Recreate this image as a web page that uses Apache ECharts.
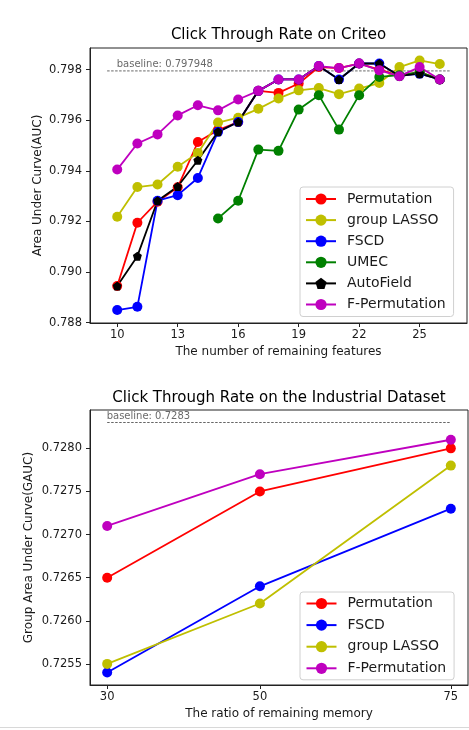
<!DOCTYPE html>
<html>
<head>
<meta charset="utf-8">
<script src="https://cdn.jsdelivr.net/npm/echarts@6/dist/echarts.min.js"></script>
<style>html,body{margin:0;padding:0;background:#fff;}#c{width:469px;height:730px;}</style>
</head>
<body>
<div id="c"></div>
<script>
// ---- Data: Criteo ----
const featX = [10, 11, 12, 13, 14, 15, 16, 17, 18, 19, 20, 21, 22, 23, 24, 25, 26];
const permutation = [0.78945, 0.79195, 0.79278, 0.79335, 0.79514, 0.79561, 0.79593, 0.79716, 0.79708, 0.79745, 0.79810, 0.79806, 0.79824, 0.79800, 0.79776, 0.79790, 0.79761];
const groupLasso = [0.79219, 0.79336, 0.79346, 0.79416, 0.79471, 0.79591, 0.79610, 0.79645, 0.79686, 0.79718, 0.79727, 0.79703, 0.79725, 0.79747, 0.79810, 0.79836, 0.79822];
const fscd = [0.78850, 0.78863, 0.79282, 0.79304, 0.79372, 0.79554, 0.79593, 0.79716, 0.79761, 0.79761, 0.79814, 0.79761, 0.79824, 0.79824, 0.79775, 0.79784, 0.79761];
const umec = [null, null, null, null, null, 0.79212, 0.79282, 0.79484, 0.79479, 0.79642, 0.79699, 0.79563, 0.79699, 0.79771, 0.79778, 0.79790, 0.79761];
const autoField = [0.78945, 0.79063, 0.79282, 0.79338, 0.79442, 0.79554, 0.79593, 0.79716, 0.79761, 0.79761, 0.79814, 0.79761, 0.79824, 0.79824, 0.79775, 0.79784, 0.79761];
const fPermutation = [0.79405, 0.79508, 0.79544, 0.79619, 0.79659, 0.79639, 0.79682, 0.79716, 0.79761, 0.79761, 0.79814, 0.79806, 0.79824, 0.79797, 0.79774, 0.79810, 0.79761];
const baseline1 = 0.797948;
const baseline1Span = [9.5, 26.5];
const xTicks1 = [10, 13, 16, 19, 22, 25];
const yTicks1 = [0.788, 0.790, 0.792, 0.794, 0.796, 0.798];

// ---- Data: Industrial ----
const memX = [30, 50, 75];
const permutation2 = [0.7265, 0.7275, 0.7280];
const fscd2 = [0.7254, 0.7264, 0.7273];
const groupLasso2 = [0.7255, 0.7262, 0.7278];
const fPermutation2 = [0.7271, 0.7277, 0.7281];
const baseline2 = 0.7283;
const baseline2Span = [30, 75];
const xTicks2 = [30, 50, 75];
const yTicks2 = [0.7255, 0.7260, 0.7265, 0.7270, 0.7275, 0.7280];

const FONT = 'DejaVu Sans';
const TXT = '#1a1a1a';
const C = { r: '#ff0000', y: '#bfbf00', b: '#0000ff', g: '#008000', k: '#000000', m: '#bf00bf' };
const pentagon = 'path://M0,-1 L0.951,-0.309 L0.588,0.809 L-0.588,0.809 L-0.951,-0.309 Z';

function zip(xs, ys) { return xs.map((x, i) => [x, ys[i]]); }

function lineSeries(name, color, xs, ys, gi, symbol, size) {
  return {
    type: 'line', name: name, xAxisIndex: gi, yAxisIndex: gi,
    data: zip(xs, ys),
    symbol: symbol || 'circle', symbolSize: size || 10,
    lineStyle: { color: color, width: 1.8 },
    itemStyle: { color: color },
    connectNulls: false, silent: true
  };
}
function baselineSeries(val, span, gi) {
  return {
    type: 'line', name: 'baseline' + gi, xAxisIndex: gi, yAxisIndex: gi,
    data: [[span[0], val], [span[1], val]], symbol: 'none',
    lineStyle: { color: '#555', width: 0.9, type: [2.5, 1.5] }, silent: true
  };
}
function baselineLabel(val, xAt, gi) {
  return {
    type: 'scatter', name: 'baselineText' + gi, xAxisIndex: gi, yAxisIndex: gi,
    data: [[xAt, val]], symbolSize: 1, itemStyle: { color: 'rgba(0,0,0,0)' }, silent: true,
    label: { show: true, position: [0, -11], formatter: 'baseline: ' + val,
      fontFamily: FONT, fontSize: 10, color: '#444' }
  };
}
function xAxis(gi, min, max, ticks, name) {
  return {
    type: 'value', gridIndex: gi, min: min, max: max,
    name: name, nameLocation: 'middle', nameGap: 23, nameMoveOverlap: false,
    nameTextStyle: { fontFamily: FONT, fontSize: 12, color: TXT },
    axisLine: { show: true, lineStyle: { color: '#222', width: 1 } },
    axisTick: { show: true, inside: false, length: 4, customValues: ticks, lineStyle: { color: '#222' } },
    axisLabel: { customValues: ticks, margin: 6, fontFamily: FONT, fontSize: 11.5, color: TXT },
    splitLine: { show: false }
  };
}
function yAxis(gi, min, max, ticks, name, dec, gap) {
  return {
    type: 'value', gridIndex: gi, min: min, max: max,
    name: name, nameLocation: 'middle', nameGap: gap, nameRotate: 90, nameMoveOverlap: false,
    nameTextStyle: { fontFamily: FONT, fontSize: 12, color: TXT },
    axisLine: { show: true, lineStyle: { color: '#222', width: 1 } },
    axisTick: { show: true, inside: false, length: 4, customValues: ticks, lineStyle: { color: '#222' } },
    axisLabel: { customValues: ticks, margin: 8, fontFamily: FONT, fontSize: 11.5, color: TXT,
      formatter: v => v.toFixed(dec) },
    splitLine: { show: false }
  };
}
function legend(names, top, pad) {
  return {
    data: names, orient: 'vertical', left: 300, top: top,
    padding: pad, itemGap: 7.1, itemWidth: 30, itemHeight: 14,
    backgroundColor: 'rgba(255,255,255,0.85)', borderColor: '#d0d0d0', borderWidth: 1, borderRadius: 3,
    textStyle: { fontFamily: FONT, fontSize: 14, color: TXT, padding: [0, 0, 0, 6] },
    selectedMode: false
  };
}

const chart = echarts.init(document.getElementById('c'), null, { renderer: 'canvas' });
chart.setOption({
  animation: false,
  backgroundColor: '#fff',
  grid: [
    { left: 90, top: 48, width: 377, height: 275, show: true, borderColor: '#222', borderWidth: 1, containLabel: false },
    { left: 90, top: 410, width: 378, height: 275, show: true, borderColor: '#222', borderWidth: 1, containLabel: false }
  ],
  xAxis: [
    xAxis(0, 8.65, 27.35, xTicks1, 'The number of remaining features'),
    xAxis(1, 27.75, 77.25, xTicks2, 'The ratio of remaining memory')
  ],
  yAxis: [
    yAxis(0, 0.78799, 0.798853, yTicks1, 'Area Under Curve(AUC)', 3, 46),
    yAxis(1, 0.725255, 0.728445, yTicks2, 'Group Area Under Curve(GAUC)', 4, 55)
  ],
  legend: [
    legend(['Permutation', 'group LASSO', 'FSCD', 'UMEC', 'AutoField', 'F-Permutation'], 187, [5, 8, 5, 5]),
    Object.assign(legend(['Permutation', 'FSCD', 'group LASSO', 'F-Permutation'], 592, [4.5, 8, 4.5, 5.5]), { itemGap: 7.6 })
  ],
  graphic: [
    { type: 'text', x: 278.5, y: 35, style: { text: 'Click Through Rate on Criteo', fontFamily: FONT, fontSize: 15, fill: '#000', textAlign: 'center', textVerticalAlign: 'middle' } },
    { type: 'text', x: 279, y: 398, style: { text: 'Click Through Rate on the Industrial Dataset', fontFamily: FONT, fontSize: 15, fill: '#000', textAlign: 'center', textVerticalAlign: 'middle' } },
    { type: 'line', shape: { x1: 0, y1: 727.5, x2: 469, y2: 727.5 }, style: { stroke: '#d8d8d8', lineWidth: 1 } }
  ],
  series: [
    baselineSeries(baseline1, baseline1Span, 0),
    baselineLabel(baseline1, featX[0], 0),
    lineSeries('Permutation', C.r, featX, permutation, 0),
    lineSeries('group LASSO', C.y, featX, groupLasso, 0),
    lineSeries('FSCD', C.b, featX, fscd, 0),
    lineSeries('UMEC', C.g, featX, umec, 0),
    lineSeries('AutoField', C.k, featX, autoField, 0, pentagon, 9),
    lineSeries('F-Permutation', C.m, featX, fPermutation, 0),

    baselineSeries(baseline2, baseline2Span, 1),
    baselineLabel(baseline2, memX[0], 1),
    lineSeries('Permutation', C.r, memX, permutation2, 1),
    lineSeries('FSCD', C.b, memX, fscd2, 1),
    lineSeries('group LASSO', C.y, memX, groupLasso2, 1),
    lineSeries('F-Permutation', C.m, memX, fPermutation2, 1)
  ]
});
</script>
</body>
</html>
